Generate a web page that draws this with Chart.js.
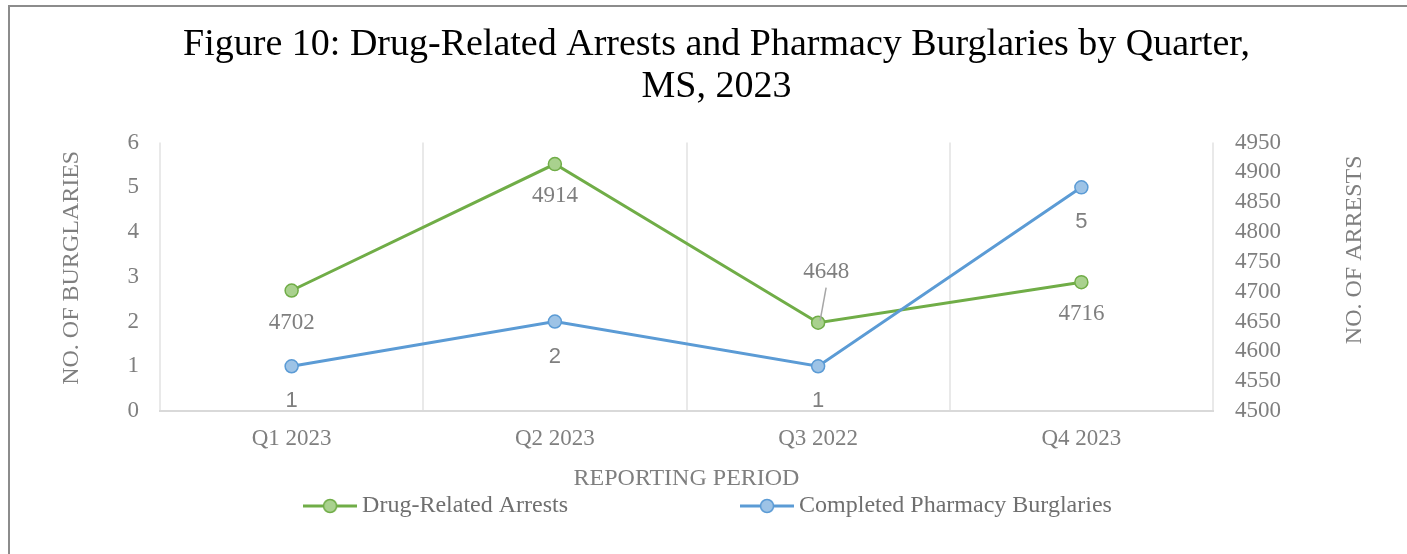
<!DOCTYPE html>
<html>
<head>
<meta charset="utf-8">
<title>Figure 10: Drug-Related Arrests and Pharmacy Burglaries by Quarter</title>
<script src="https://cdn.jsdelivr.net/npm/chart.js@4.4.1/dist/chart.umd.min.js"></script>
<style>
  html, body { margin: 0; padding: 0; background: #fff; overflow: hidden; }
  #wrap { position: relative; width: 1407px; height: 554px; overflow: hidden; }
  #frame { position: absolute; left: 8px; top: 5px; width: 1420px; height: 600px;
           border-left: 2px solid #8c8c8c; border-top: 2px solid #8c8c8c; }
  canvas { position: absolute; left: 0; top: 0; }
</style>
</head>
<body>
<div id="wrap">
  <div id="frame"></div>
  <canvas id="chart" width="1407" height="554"></canvas>
</div>
<script>
// data
const quarters = ['Q1 2023', 'Q2 2023', 'Q3 2022', 'Q4 2023'];
const arrests = [4702, 4914, 4648, 4716];
const burglaries = [1, 2, 1, 5];
const burglaryRange = [0, 6, 1];       // min, max, step (left axis)
const arrestRange = [4500, 4950, 50];  // min, max, step (right axis)

const SERIF = '"Liberation Serif", "Times New Roman", serif';
const SANS = '"Liberation Sans", Arial, sans-serif';
const GREY = '#7f7f7f';

// little "line with a dot" swatch used by the legend
function swatch(line, fill) {
  const c = document.createElement('canvas');
  c.width = 54; c.height = 18;
  const g = c.getContext('2d');
  g.strokeStyle = line; g.lineWidth = 3;
  g.beginPath(); g.moveTo(0, 9); g.lineTo(54, 9); g.stroke();
  g.beginPath(); g.arc(27, 9, 6.5, 0, Math.PI * 2);
  g.fillStyle = fill; g.fill();
  g.lineWidth = 1.5; g.stroke();
  return c;
}

// value labels next to every point
const pointLabels = {
  id: 'pointLabels',
  afterDatasetsDraw(chart) {
    const ctx = chart.ctx;
    chart.data.datasets.forEach((ds, di) => {
      const meta = chart.getDatasetMeta(di);
      const st = ds.labelStyle;
      ctx.save();
      ctx.font = st.font;
      ctx.fillStyle = GREY;
      ctx.textAlign = 'center';
      ctx.textBaseline = 'middle';
      meta.data.forEach((pt, i) => {
        const above = st.above.includes(i);
        if (above) {
          const lx = pt.x + st.aboveDx, ly = pt.y - st.aboveDy;
          ctx.strokeStyle = '#a6a6a6';
          ctx.lineWidth = 1.5;
          ctx.beginPath();
          ctx.moveTo(pt.x + 2, pt.y - 2);
          ctx.lineTo(lx, ly + 16);
          ctx.stroke();
          ctx.fillText(String(ds.data[i]), lx, ly);
        } else {
          ctx.fillText(String(ds.data[i]), pt.x, pt.y + st.belowDy);
        }
      });
      ctx.restore();
    });
  }
};

// both vertical axis titles read bottom-to-top, as in the original
const axisTitles = {
  id: 'axisTitles',
  afterDraw(chart) {
    const ctx = chart.ctx;
    const a = chart.chartArea;
    const mid = (a.top + a.bottom) / 2;
    ctx.save();
    ctx.font = '24px ' + SERIF;
    ctx.fillStyle = GREY;
    ctx.textAlign = 'center';
    ctx.textBaseline = 'middle';
    [[chart.scales.yB, 72, mid - 9], [chart.scales.yA, 1355, mid - 27]].forEach(([s, x, y]) => {
      ctx.save();
      ctx.translate(x, y);
      ctx.rotate(-Math.PI / 2);
      ctx.fillText(s.options.titleText, 0, 0);
      ctx.restore();
    });
    ctx.restore();
  }
};

// legend under the axis title, two items spread apart like the original
const wideLegend = {
  id: 'wideLegend',
  afterDraw(chart) {
    const ctx = chart.ctx;
    const gap = 172, markW = 54, textGap = 5;
    ctx.save();
    ctx.font = '24px ' + SERIF;
    ctx.textBaseline = 'middle';
    ctx.textAlign = 'left';
    const items = chart.data.datasets.map(ds => ({
      text: ds.label,
      img: swatch(ds.borderColor, ds.pointBackgroundColor),
      w: markW + textGap + ctx.measureText(ds.label).width
    }));
    const total = items.reduce((s, it) => s + it.w, 0) + gap * (items.length - 1);
    let x = (chart.width - total) / 2 + 4;
    const y = chart.scales.x.bottom + 11;
    items.forEach(it => {
      ctx.drawImage(it.img, x, y - 9);
      ctx.fillStyle = '#6f6f6f';
      ctx.fillText(it.text, x + markW + textGap, y);
      x += it.w + gap;
    });
    ctx.restore();
  }
};

new Chart(document.getElementById('chart'), {
  type: 'line',
  data: {
    labels: quarters,
    datasets: [
      {
        label: 'Drug-Related Arrests',
        data: arrests,
        yAxisID: 'yA',
        order: 1,
        borderColor: '#70ad47',
        backgroundColor: '#a9d18e',
        pointBackgroundColor: '#a9d18e',
        pointBorderColor: '#70ad47',
        borderWidth: 3,
        pointRadius: 6.5,
        pointBorderWidth: 1.5,
        tension: 0,
        labelStyle: { font: '23px ' + SERIF, belowDy: 32, above: [2], aboveDx: 8, aboveDy: 51 }
      },
      {
        label: 'Completed Pharmacy Burglaries',
        data: burglaries,
        yAxisID: 'yB',
        order: 0,
        borderColor: '#5b9bd5',
        backgroundColor: '#9dc3e6',
        pointBackgroundColor: '#9dc3e6',
        pointBorderColor: '#5b9bd5',
        borderWidth: 3,
        pointRadius: 6.5,
        pointBorderWidth: 1.5,
        tension: 0,
        labelStyle: { font: '22px ' + SANS, belowDy: 35, above: [], aboveDx: 0, aboveDy: 0 }
      }
    ]
  },
  options: {
    responsive: false,
    animation: false,
    layout: { padding: { left: 30, right: 4, top: 5, bottom: 59 } },
    plugins: {
      legend: { display: false },
      tooltip: { enabled: false },
      title: {
        display: true,
        text: ['Figure 10: Drug-Related Arrests and Pharmacy Burglaries by Quarter,', 'MS, 2023'],
        color: '#000',
        font: { family: SERIF, size: 38, weight: 'normal', lineHeight: 1.1 },
        padding: { top: 19, bottom: 35 }
      }
    },
    scales: {
      x: {
        offset: true,
        grid: { display: true, offset: true, color: '#e9e9e9', lineWidth: 2, drawTicks: false },
        border: { display: true, color: '#d9d9d9', width: 2 },
        ticks: { color: GREY, font: { family: SERIF, size: 23 }, padding: 14, maxRotation: 0 },
        title: {
          display: true, text: 'REPORTING PERIOD', color: GREY,
          font: { family: SERIF, size: 24 }, padding: { top: 0, bottom: 2 }
        },
        afterFit: s => { s.height = 84; }
      },
      yB: {
        position: 'left',
        min: burglaryRange[0],
        max: burglaryRange[1],
        titleText: 'NO. OF BURGLARIES',
        grid: { display: false, drawTicks: false },
        border: { display: false },
        ticks: {
          stepSize: burglaryRange[2], autoSkip: false,
          color: GREY, font: { family: SERIF, size: 23 }, padding: 21
        },
        afterFit: s => { s.width = 130; }
      },
      yA: {
        position: 'right',
        min: arrestRange[0],
        max: arrestRange[1],
        titleText: 'NO. OF ARRESTS',
        grid: { display: false, drawTicks: false },
        border: { display: false },
        ticks: {
          stepSize: arrestRange[2], autoSkip: false,
          color: GREY, font: { family: SERIF, size: 23 }, padding: 22,
          callback: v => String(v)
        },
        afterFit: s => { s.width = 190; }
      }
    }
  },
  plugins: [pointLabels, axisTitles, wideLegend]
});
</script>
</body>
</html>
